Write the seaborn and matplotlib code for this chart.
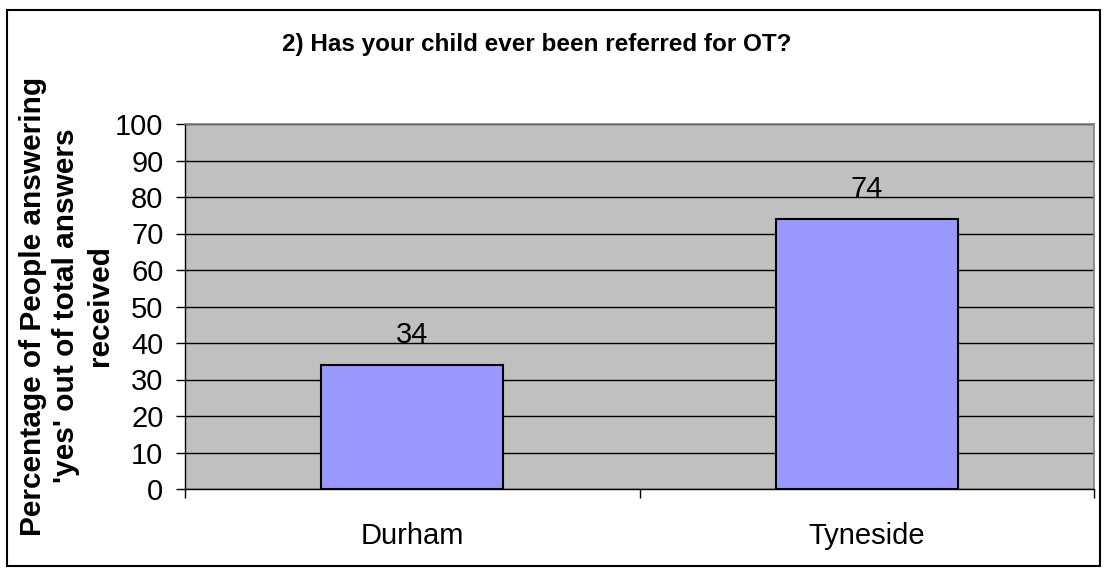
import matplotlib
matplotlib.use("Agg")
import matplotlib.pyplot as plt
import seaborn as sns
import pandas as pd
from matplotlib.patches import Rectangle
from matplotlib.ticker import FixedLocator, MultipleLocator

# Survey results
regions = ["Durham", "Tyneside"]
pct_yes = [34, 74]

title = "2) Has your child ever been referred for OT?"
y_label_lines = ["Percentage of People answering",
                 "'yes' out of total answers",
                 "received"]

sns.set_theme(style="white")
plt.rcParams["font.family"] = ["Liberation Sans", "DejaVu Sans"]
plt.rcParams.update({"text.color": "black", "axes.labelcolor": "black",
                     "xtick.color": "black", "ytick.color": "black"})

W, H = 1107, 574
fig = plt.figure(figsize=(W / 100, H / 100), dpi=100)
ax = fig.add_axes([185 / W, 1 - 489 / H, (1094 - 185) / W, (489 - 124) / H])

df = pd.DataFrame({"region": regions, "pct": pct_yes})
sns.barplot(data=df, x="region", y="pct", color="#9999FF", saturation=1,
            width=0.4, edgecolor="black", linewidth=1.5, ax=ax, zorder=3)

ax.set_facecolor("#C0C0C0")
ax.set_ylim(0, 100)
ax.set_xlim(-0.5, len(regions) - 0.5)
ax.yaxis.set_major_locator(MultipleLocator(10))
ax.grid(axis="y", color="black", linewidth=1.0, zorder=0)
ax.grid(axis="x", visible=False)
ax.set_axisbelow(True)

for side in ["left", "bottom"]:
    ax.spines[side].set_color("black")
    ax.spines[side].set_linewidth(1.0)
for side in ["top", "right"]:
    ax.spines[side].set_color("#808080")
    ax.spines[side].set_linewidth(1.2)

ax.tick_params(axis="y", which="major", direction="out", length=6.5, width=1,
               color="black", labelcolor="black", pad=9, labelsize=21, left=True)
ax.tick_params(axis="x", which="major", length=0, pad=24, labelsize=21,
               labelcolor="black")
ax.xaxis.set_minor_locator(FixedLocator([-0.5 + i for i in range(len(regions) + 1)]))
ax.tick_params(axis="x", which="minor", direction="out", length=6.5, width=1,
               color="black", bottom=True)
ax.set_xlabel("")
ax.set_ylabel("")

# Value labels above bars
for i, v in enumerate(pct_yes):
    ax.annotate(f"{v}", xy=(i, v), xytext=(0, 16), textcoords="offset points",
                ha="center", va="baseline", fontsize=21, color="black")

fig.text(537 / W, 1 - 45 / H, title, ha="center", va="center",
         fontsize=17.5, fontweight="bold", color="black")

# Vertical axis title, one rotated line per baseline
for line, base_x in zip(y_label_lines, [41, 74, 108]):
    fig.text(base_x / W, 1 - 306 / H, line, ha="center", va="baseline",
             rotation=90, rotation_mode="anchor", fontsize=21.5,
             fontweight="bold", color="black")

# Outer chart border
fig.patches.append(Rectangle((7 / W, 1 - 566 / H), (1100 - 7) / W, (566 - 10) / H,
                             transform=fig.transFigure, fill=False,
                             edgecolor="black", linewidth=1.5))

fig.savefig("out.png", dpi=100)
